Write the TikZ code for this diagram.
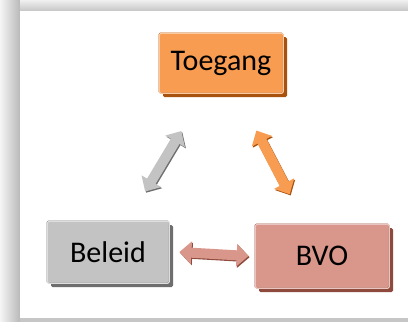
\documentclass[tikz,border=0pt]{standalone}
\usepackage{fontspec}
\setmainfont{Carlito}
\usepackage{tikz}
\usetikzlibrary{arrows.meta, calc, shadows}

\definecolor{Oranje}{HTML}{F89C52}
\definecolor{OranjeRand}{HTML}{A9520E}
\definecolor{Zalm}{HTML}{D9968A}
\definecolor{ZalmRand}{HTML}{8E4A3C}
\definecolor{Grijs}{HTML}{C3C3C3}
\definecolor{GrijsRand}{HTML}{6E6E6E}

\begin{document}
\begin{tikzpicture}[
  x=1pt, y=-1pt,
  blok/.style={rectangle, rounded corners=1.5pt, line width=0.8pt,
    font=\fontsize{30}{34}\selectfont, text=black, inner sep=0pt,
    general shadow={fill=#1Rand, shadow xshift=4pt, shadow yshift=-4pt},
    draw=#1Rand, fill=#1,
    postaction={draw=#1!55!white, line width=1.2pt, shorten >=0pt,
      transform canvas={shift={(0.3pt,-0.3pt)}}}},
  pijl/.style={line width=10pt, draw=#1,
    arrows={Triangle[width=22pt, length=12pt]-Triangle[width=22pt, length=12pt]},
    preaction={draw=#1Rand, line width=10pt, transform canvas={shift={(1pt,-1.2pt)}}}}
]
  % frame
  \fill[gray!30] (0,0) rectangle (408,322);
  \shade[left color=gray!8, right color=gray!55] (0,0) rectangle (20,322);
  \shade[top color=gray!12, bottom color=gray!45] (20,0) rectangle (408,11);
  \fill[gray!45] (20,318) rectangle (408,322);
  \fill[white] (20,11) rectangle (408,318);

  % boxes
  \node[blok=Oranje, minimum width=124pt, minimum height=60pt] (toegang) at (221,63) {Toegang};
  \node[blok=Grijs, minimum width=122pt, minimum height=62pt] (beleid) at (108,252) {Beleid};
  \node[blok=Zalm, minimum width=134pt, minimum height=64pt] (bvo) at (322,256) {BVO};

  % arrows
  \coordinate (g1) at ($(beleid)!0.32!(toegang)+(1pt,0)$);
  \coordinate (g2) at ($(beleid)!0.64!(toegang)+(1pt,0)$);
  \coordinate (o1) at ($(toegang)!0.35!(bvo)$);
  \coordinate (o2) at ($(toegang)!0.68!(bvo)$);
  \draw[pijl=Grijs] (g1) -- (g2);
  \draw[pijl=Oranje] (o1) -- (o2);
  \draw[pijl=Zalm] (beleid.east) ++(10pt,0) coordinate (z1) -- ($(bvo.west)+(-6pt,0)$);
\end{tikzpicture}
\end{document}
